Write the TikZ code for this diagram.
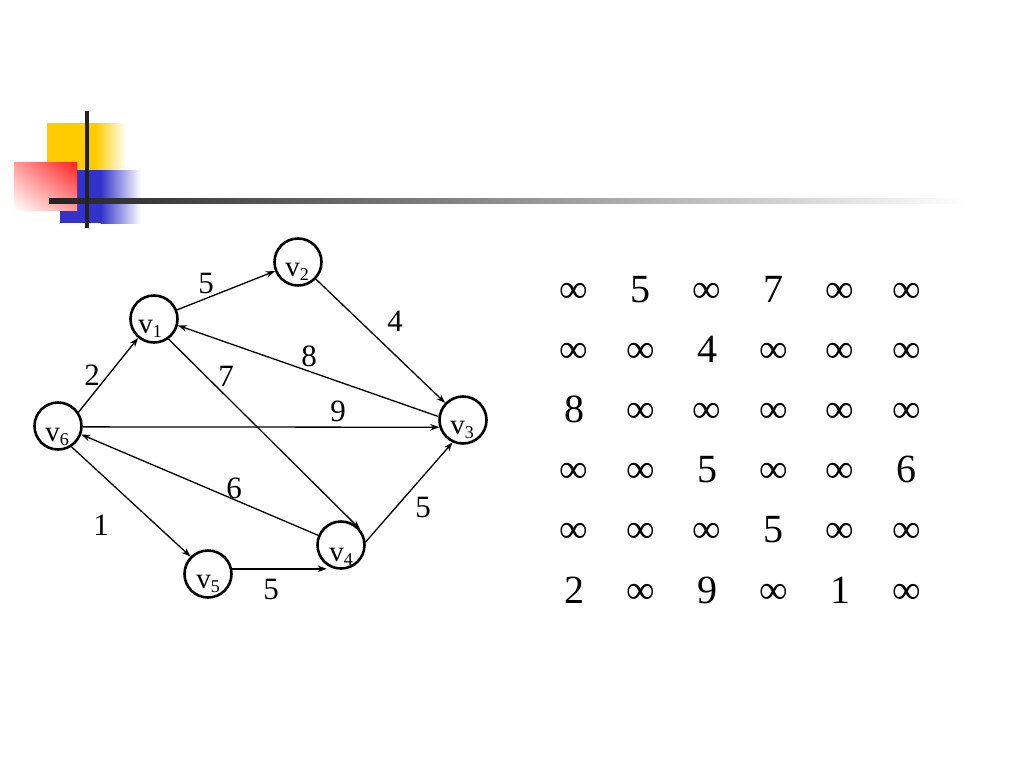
\documentclass[tikz,border=0pt]{standalone}
\usepackage{fontspec}
\setmainfont{Liberation Serif}
\usetikzlibrary{arrows.meta,shadings}
\definecolor{yel}{HTML}{FFCC00}
\definecolor{blu}{HTML}{3333CC}
\definecolor{rd}{HTML}{FF2020}
\definecolor{dk}{HTML}{222222}
\newcommand\vname[1]{v\raisebox{-4pt}{\fontsize{18}{18}\selectfont #1}}
\begin{document}
\begin{tikzpicture}[x=1pt,y=-1pt,
  vert/.style={circle,draw,line width=2.6pt,minimum size=47pt,inner sep=0pt},
  vlab/.style={font=\fontsize{29}{29}\selectfont,inner sep=0pt,anchor=base},
  wlab/.style={font=\fontsize{31}{31}\selectfont,inner sep=0pt},
  edge/.style={line width=1.3pt,-{Stealth[length=9pt,width=6.5pt]}},
  cell/.style={font=\fontsize{40}{40}\selectfont,anchor=base,inner sep=0pt}]
\useasboundingbox[fill=white] (0,0) rectangle (1024,768);
% decoration
\fill[yel] (47,123) rectangle (96,170);
\shade[left color=yel,right color=white] (95.5,123) rectangle (126,170);
\fill[blu] (60,170) rectangle (101,223);
\shade[left color=blu,right color=white] (100.5,170) rectangle (141,223);
\shade[upper right=rd,upper left=rd!45,lower right=rd!45,lower left=white] (14,162) rectangle (77,210);
\shade[left color=dk,right color=white] (49,198.5) rectangle (967,203.5);
\draw[line width=4pt,dk] (87,111) -- (87,228);
% vertices
\node[vert] (v1) at (154,319) {};
\node[vert] (v2) at (298,262) {};
\node[vert] (v3) at (463,420) {};
\node[vert] (v4) at (341,545) {};
\node[vert] (v5) at (208,574) {};
\node[vert] (v6) at (58,426) {};
\node[vlab] (t1) at ([xshift=-4pt,yshift=-14pt]v1.center) {\vname{1}};
\node[vlab] (t2) at ([xshift=-1pt,yshift=-14pt]v2.center) {\vname{2}};
\node[vlab] (t3) at ([xshift=-1pt,yshift=-14pt]v3.center) {\vname{3}};
\node[vlab] (t4) at ([xshift=0pt,yshift=-16pt]v4.center) {\vname{4}};
\node[vlab] (t5) at ([xshift=0pt,yshift=-14pt]v5.center) {\vname{5}};
\node[vlab] (t6) at ([xshift=-1pt,yshift=-15pt]v6.center) {\vname{6}};
% edges
\draw[edge] (v1) -- (v2);
\draw[edge] (v2) -- (v3);
\draw[edge] (v3.172) -- (v1.-15);
\draw[edge] (v6.34) -- (v1.230);
\draw[edge] (v6.-2) -- (v3.197);
\draw[edge] (v1.-54) -- (v4.40);
\draw[edge] (v4.157) -- (v6.-20);
\draw[edge] (v6.-57) -- (v5.135);
\draw[edge] (v5.12) -- (v5.12 -| v4.235);
\draw[edge] (v4.7) -- (v3.245);
% edge labels
\node[wlab] (w12) at (206,283) {5};
\node[wlab] (w23) at (395,321) {4};
\node[wlab] (w31) at (309,356) {8};
\node[wlab] (w61) at (92,375) {2};
\node[wlab] (w14) at (226,376) {7};
\node[wlab] (w63) at (338,411) {9};
\node[wlab] (w46) at (234,488) {6};
\node[wlab] (w43) at (423,507) {5};
\node[wlab] (w65) at (101,525) {1};
\node[wlab] (w54) at (271,589) {5};
% matrix
\foreach \row [count=\i] in {
  {∞,5,∞,7,∞,∞},
  {∞,∞,4,∞,∞,∞},
  {8,∞,∞,∞,∞,∞},
  {∞,∞,5,∞,∞,6},
  {∞,∞,∞,5,∞,∞},
  {2,∞,9,∞,1,∞}} {
  \foreach \e [count=\j] in \row {
    \node[cell] (m\i\j) at ({574+66.5*(\j-1)},{302+60.2*(\i-1)}) {\e};
  }
}
\end{tikzpicture}
\end{document}
